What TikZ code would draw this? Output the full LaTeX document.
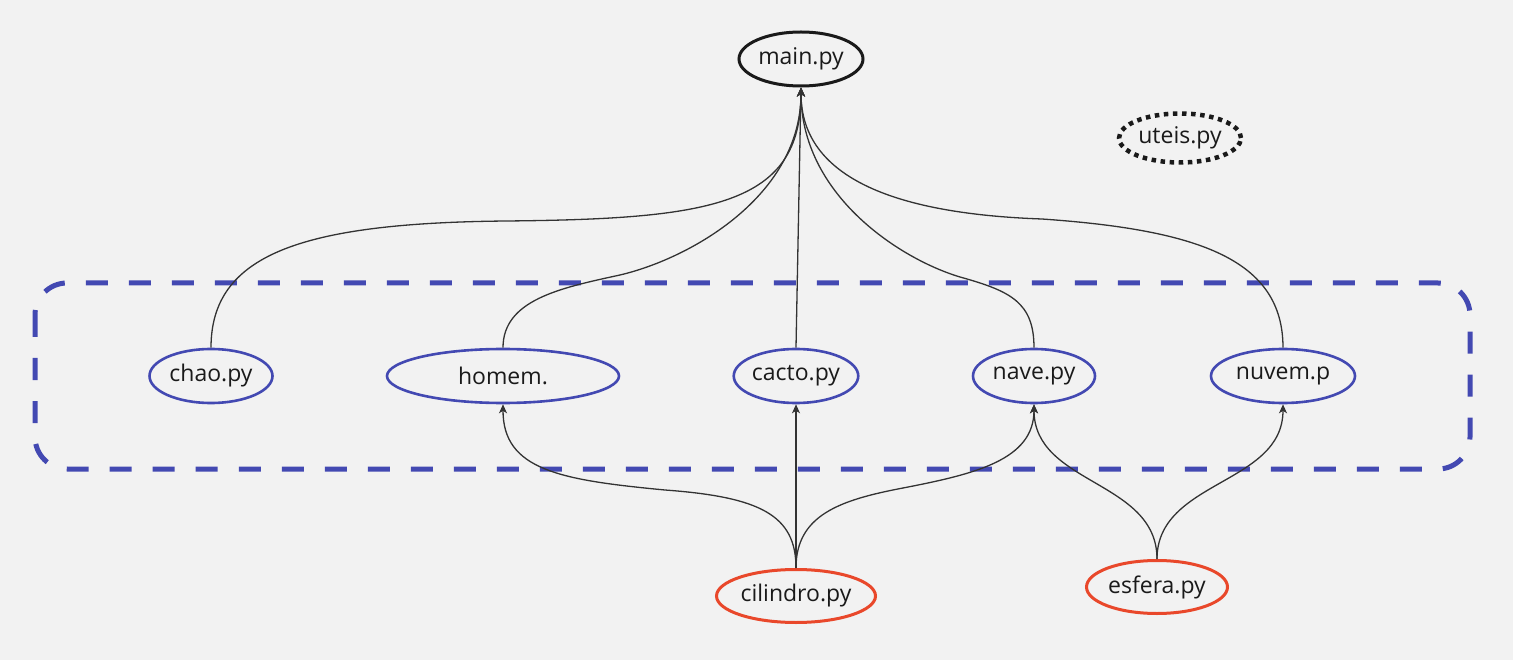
\documentclass[tikz,border=0pt]{standalone}
\usepackage{fontspec}
\setmainfont{Open Sans}
\usetikzlibrary{shapes.geometric,arrows.meta}
\definecolor{bg}{HTML}{F2F2F2}
\definecolor{bluec}{HTML}{4349B2}
\definecolor{redc}{HTML}{E9482B}
\definecolor{ink}{HTML}{1A1A1A}
\definecolor{edgec}{HTML}{333333}
\begin{document}
\begin{tikzpicture}[x=1pt,y=-1pt,
  file/.style={ellipse,inner sep=0pt,font=\fontsize{23}{27}\selectfont,text=ink},
  bluefile/.style={file,draw=bluec,line width=2.6pt,minimum height=54pt},
  redfile/.style={file,draw=redc,line width=3pt,minimum height=53pt},
  conn/.style={draw=edgec,line width=1.3pt},
  arr/.style={conn,-{Stealth[length=9pt,width=8pt,inset=2.5pt]}}]
\useasboundingbox (0,0) rectangle (1513,660);
\fill[bg] (0,0) rectangle (1513,660);
% group frame
\draw[bluec,line width=5pt,dash pattern=on 22pt off 21pt,rounded corners=32pt]
  (35,283) rectangle (1470,469);
% nodes
\node[file,draw=ink,line width=3pt,minimum width=124pt,minimum height=54pt] (main) at (801,59) {main.py};
\node[file,draw=ink,line width=4.5pt,dash pattern=on 4.5pt off 4.6pt,minimum width=122pt,minimum height=49pt] (uteis) at (1180,138) {uteis.py};
\node[bluefile,minimum width=123pt] (chao) at (211,376) {chao.py};
\node[bluefile,minimum width=232pt] (homem) at (503,376) {homem.};
\node[bluefile,minimum width=122pt] (cacto) at (796,376) {cacto.py};
\node[bluefile,minimum width=122pt] (nave) at (1034,376) {nave.py};
\node[bluefile,minimum width=144pt] (nuvem) at (1283,376) {nuvem.p};
\node[redfile,minimum width=159pt] (cil) at (796,596) {cilindro.py};
\node[redfile,minimum width=141pt] (esf) at (1157,587) {esfera.py};
% upper connectors
\draw[arr] (chao.north) .. controls (211,255) and (300,223) .. (506,221)
  .. controls (712,219) and (801,205) .. (main.south);
\draw[arr] (homem.north) .. controls (503,300) and (560,288) .. (620,275)
  .. controls (692,258) and (801,195) .. (main.south);
\draw[arr] (cacto.north) -- (main.south);
\draw[arr] (nave.north) .. controls (1034,302) and (1010,291) .. (960,277)
  .. controls (900,259) and (801,195) .. (main.south);
\draw[arr] (nuvem.north) .. controls (1283,260) and (1200,230) .. (1042,219)
  .. controls (900,214) and (801,180) .. (main.south);
% lower connectors
\draw[arr] (cil.north) .. controls (796,515) and (760,497) .. (665,490)
  .. controls (560,480) and (503,470) .. (homem.south);
\draw[arr] (cil.north) -- (cacto.south);
\draw[arr] (cil.north) .. controls (796,515) and (840,500) .. (903,488)
  .. controls (975,474) and (1034,460) .. (nave.south);
\draw[arr] (esf.north) .. controls (1157,480) and (1034,485) .. (nave.south);
\draw[arr] (esf.north) .. controls (1157,480) and (1283,485) .. (nuvem.south);
\end{tikzpicture}
\end{document}
